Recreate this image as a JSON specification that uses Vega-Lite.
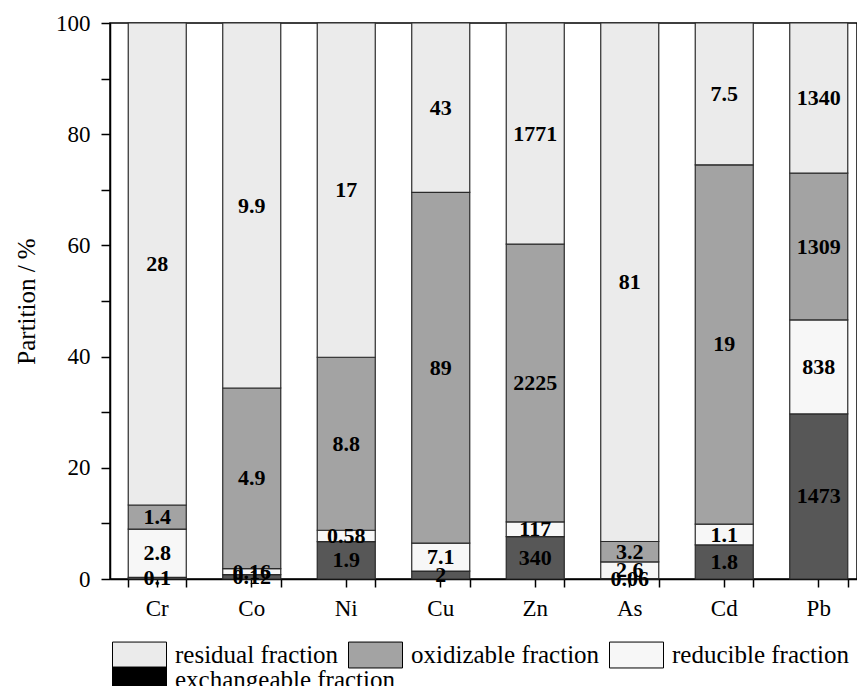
{
  "$schema": "https://vega.github.io/schema/vega-lite/v6.json",
  "width": 747,
  "height": 556,
  "autosize": {"type": "none"},
  "padding": {"left": 110, "top": 23, "right": 0, "bottom": 107},
  "config": {
    "view": {"stroke": "#000", "strokeWidth": 1.5},
    "font": "Liberation Serif",
    "legend": {
      "title": null,
      "orient": "none",
      "direction": "horizontal",
      "padding": 0,
      "rowPadding": 0,
      "columnPadding": 8,
      "symbolType": "M-2,-0.96H2V0.96H-2Z",
      "symbolSize": 729,
      "symbolStrokeColor": "#000",
      "symbolStrokeWidth": 1,
      "labelFont": "Liberation Serif",
      "labelFontSize": 25,
      "labelLimit": 400,
      "labelColor": "#000",
      "labelOffset": 21.5
    }
  },
  "data": {
    "values": [
      {"element": "Cr", "fraction": "exchangeable fraction", "k": 1, "value": 0.1},
      {"element": "Cr", "fraction": "reducible fraction", "k": 2, "value": 2.8},
      {"element": "Cr", "fraction": "oxidizable fraction", "k": 3, "value": 1.4},
      {"element": "Cr", "fraction": "residual fraction", "k": 4, "value": 28},
      {"element": "Co", "fraction": "exchangeable fraction", "k": 1, "value": 0.12},
      {"element": "Co", "fraction": "reducible fraction", "k": 2, "value": 0.16},
      {"element": "Co", "fraction": "oxidizable fraction", "k": 3, "value": 4.9},
      {"element": "Co", "fraction": "residual fraction", "k": 4, "value": 9.9},
      {"element": "Ni", "fraction": "exchangeable fraction", "k": 1, "value": 1.9},
      {"element": "Ni", "fraction": "reducible fraction", "k": 2, "value": 0.58},
      {"element": "Ni", "fraction": "oxidizable fraction", "k": 3, "value": 8.8},
      {"element": "Ni", "fraction": "residual fraction", "k": 4, "value": 17},
      {"element": "Cu", "fraction": "exchangeable fraction", "k": 1, "value": 2},
      {"element": "Cu", "fraction": "reducible fraction", "k": 2, "value": 7.1},
      {"element": "Cu", "fraction": "oxidizable fraction", "k": 3, "value": 89},
      {"element": "Cu", "fraction": "residual fraction", "k": 4, "value": 43},
      {"element": "Zn", "fraction": "exchangeable fraction", "k": 1, "value": 340},
      {"element": "Zn", "fraction": "reducible fraction", "k": 2, "value": 117},
      {"element": "Zn", "fraction": "oxidizable fraction", "k": 3, "value": 2225},
      {"element": "Zn", "fraction": "residual fraction", "k": 4, "value": 1771},
      {"element": "As", "fraction": "exchangeable fraction", "k": 1, "value": 0.06},
      {"element": "As", "fraction": "reducible fraction", "k": 2, "value": 2.6},
      {"element": "As", "fraction": "oxidizable fraction", "k": 3, "value": 3.2},
      {"element": "As", "fraction": "residual fraction", "k": 4, "value": 81},
      {"element": "Cd", "fraction": "exchangeable fraction", "k": 1, "value": 1.8},
      {"element": "Cd", "fraction": "reducible fraction", "k": 2, "value": 1.1},
      {"element": "Cd", "fraction": "oxidizable fraction", "k": 3, "value": 19},
      {"element": "Cd", "fraction": "residual fraction", "k": 4, "value": 7.5},
      {"element": "Pb", "fraction": "exchangeable fraction", "k": 1, "value": 1473},
      {"element": "Pb", "fraction": "reducible fraction", "k": 2, "value": 838},
      {"element": "Pb", "fraction": "oxidizable fraction", "k": 3, "value": 1309},
      {"element": "Pb", "fraction": "residual fraction", "k": 4, "value": 1340}
    ]
  },
  "encoding": {
    "x": {
      "field": "element",
      "type": "nominal",
      "sort": ["Cr", "Co", "Ni", "Cu", "Zn", "As", "Cd", "Pb"],
      "scale": {"range": [0, 756], "paddingInner": 0.386, "paddingOuter": 0.193},
      "axis": {
        "title": null,
        "labelAngle": 0,
        "labelFont": "Liberation Serif",
        "labelFontSize": 23,
        "labelColor": "#000",
        "labelPadding": 10,
        "tickSize": 8,
        "tickColor": "#000",
        "tickWidth": 1.5,
        "domainColor": "#000",
        "domainWidth": 1.5
      }
    },
    "order": {"field": "k", "type": "quantitative"}
  },
  "layer": [
    {
      "mark": {"type": "bar", "stroke": "#2a2a2a", "strokeWidth": 1.2},
      "encoding": {
        "y": {
          "field": "value",
          "type": "quantitative",
          "stack": "normalize",
          "scale": {"domain": [0, 1]},
          "axis": {
            "title": "Partition / %",
            "titleFont": "Liberation Serif",
            "titleFontSize": 25,
            "titleFontWeight": "normal",
            "titleColor": "#000",
            "titlePadding": 16,
            "values": [0, 0.1, 0.2, 0.3, 0.4, 0.5, 0.6, 0.7, 0.8, 0.9, 1],
            "labelExpr": "round(datum.value * 100) % 20 == 0 ? format(round(datum.value * 100), 'd') : ''",
            "labelFont": "Liberation Serif",
            "labelFontSize": 23,
            "labelColor": "#000",
            "labelFlush": false,
            "labelOverlap": false,
            "labelPadding": 11,
            "tickSize": 9,
            "tickColor": "#000",
            "tickWidth": 1.5,
            "domainColor": "#000",
            "domainWidth": 1.5,
            "grid": false
          }
        },
        "color": {
          "field": "fraction",
          "type": "nominal",
          "scale": {
            "domain": ["residual fraction", "oxidizable fraction", "reducible fraction", "exchangeable fraction"],
            "range": ["#ebebeb", "#a3a3a3", "#f7f7f7", "#575757"]
          },
          "legend": {
            "values": ["residual fraction", "oxidizable fraction", "reducible fraction"],
            "columns": 3,
            "legendX": 15.5,
            "legendY": 618
          }
        }
      }
    },
    {
      "mark": {"type": "text", "font": "Liberation Serif", "fontWeight": "bold", "fontSize": 22, "baseline": "middle"},
      "encoding": {
        "x": {
          "field": "element",
          "type": "nominal",
          "sort": ["Cr", "Co", "Ni", "Cu", "Zn", "As", "Cd", "Pb"],
          "axis": {
            "orient": "bottom",
            "title": null,
            "labels": false,
            "domain": false,
            "tickBand": "extent",
            "tickSize": 8,
            "tickColor": "#000",
            "tickWidth": 1.5
          }
        },
        "y": {
          "field": "value",
          "type": "quantitative",
          "stack": "normalize",
          "bandPosition": 0.5
        },
        "text": {"field": "value", "type": "nominal"},
        "color": {
          "field": "fraction",
          "type": "nominal",
          "scale": {
            "domain": ["residual fraction", "oxidizable fraction", "reducible fraction", "exchangeable fraction"],
            "range": ["#000", "#000", "#000", "#000"]
          },
          "legend": {
            "values": ["exchangeable fraction"],
            "legendX": 15.5,
            "legendY": 643
          }
        }
      }
    }
  ],
  "resolve": {"axis": {"x": "independent"}, "scale": {"color": "independent"}}
}
